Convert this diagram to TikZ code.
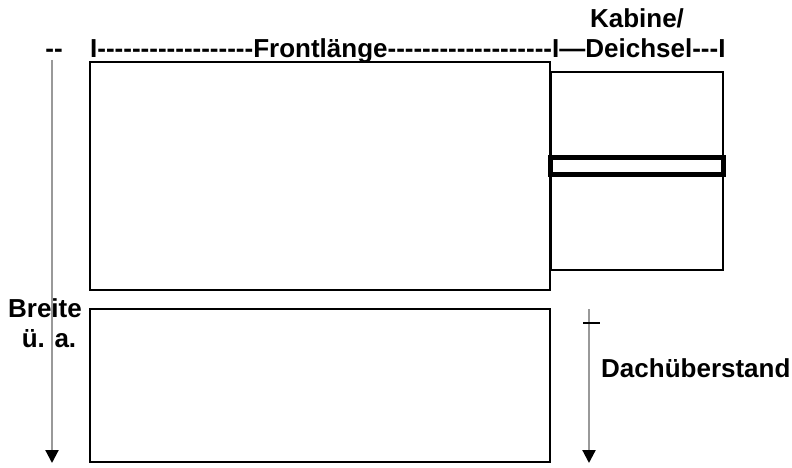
\documentclass[tikz,border=0pt]{standalone}
\usepackage{fontspec}
\newfontfamily\labfont{Liberation Sans}
\usetikzlibrary{arrows.meta}

\tikzset{
    lbl/.style={inner sep=0pt,font=\labfont\bfseries\fontsize{26}{30}\selectfont},
    part/.style={draw=black,line width=1.5pt},
    measure/.style={draw=black!40,line width=2.2pt,-{Triangle[black,length=13pt,width=13pt]}}
}

\begin{document}
\begin{tikzpicture}[x=1pt,y=-1pt,>=Stealth]

    \useasboundingbox (0,0) rectangle (792,468);

    % Body (front) and cabin seen from above
    \draw [part] (90,62) rectangle (550,290);
    \draw [part] (551,72) rectangle (723,270);

    % Drawbar
    \draw [draw=black,line width=5pt] (550.5,157.5) rectangle (723.5,174.5);

    % Roof seen from the side
    \draw [part] (90,309) rectangle (550,462);

    % Top labels
    \node [lbl,anchor=base] (kabine) at (637,28) {Kabine/};
    \node [lbl,anchor=base west] (front) at (90,58)
        {I------------------Frontlänge-------------------I—Deichsel---I};
    \node [lbl,anchor=base] (dash) at (54,58) {--};

    % Width over all
    \node [lbl,anchor=base] (breite) at (45,317) {Breite};
    \node [lbl,anchor=base] (ua) at (49,347) {ü. a.};
    \coordinate (breite top) at (52,60);
    \coordinate (breite end) at (52,463);
    \draw [measure] (breite top) -- (breite end);

    % Roof overhang
    \node [lbl,anchor=base west] (dach) at (601,377) {Dachüberstand};
    \coordinate (dach top) at (589,309);
    \coordinate (dach end) at (589,463);
    \draw [measure] (dach top) -- (dach end);
    \coordinate (tick left) at (583,323);
    \coordinate (tick right) at (600,323);
    \draw [black,line width=1.5pt] (tick left) -- (tick right);

\end{tikzpicture}
\end{document}
